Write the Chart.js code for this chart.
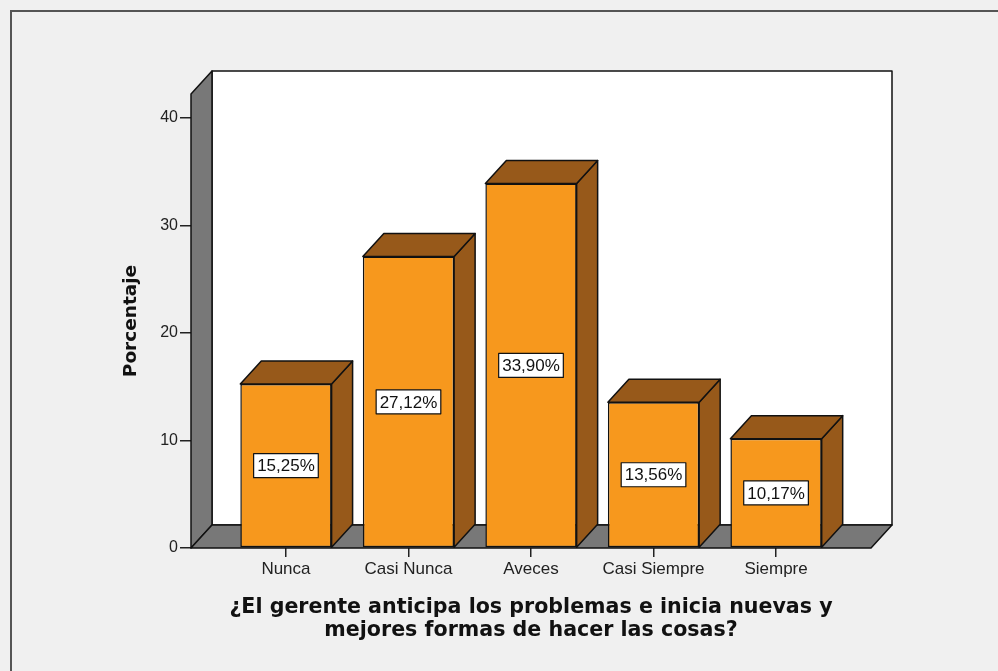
<!DOCTYPE html>
<html>
<head>
<meta charset="utf-8">
<title>Porcentaje</title>
<script src="https://cdn.jsdelivr.net/npm/chart.js@4.4.1/dist/chart.umd.min.js"></script>
<style>
    html, body { margin: 0; padding: 0; background: #f0f0f0; }
    canvas { display: block; }
</style>
</head>
<body>
<canvas id="myChart" width="998" height="671"></canvas>
<script>
var categorias = ['Nunca', 'Casi Nunca', 'Aveces', 'Casi Siempre', 'Siempre'];
var porcentajes = [15.25, 27.12, 33.90, 13.56, 10.17];
var ticksY = [0, 10, 20, 30, 40];
var tituloX = ['¿El gerente anticipa los problemas e inicia nuevas y', 'mejores formas de hacer las cosas?'];
var tituloY = 'Porcentaje';

// profundidad del efecto 3D
var PROF_X = 21;
var PROF_Y = 23;

function etiqueta(v) {
    return v.toFixed(2).replace('.', ',') + '%';
}

function poligono(ctx, puntos, color) {
    ctx.beginPath();
    ctx.moveTo(puntos[0][0], puntos[0][1]);
    for (var i = 1; i < puntos.length; i++) {
        ctx.lineTo(puntos[i][0], puntos[i][1]);
    }
    ctx.closePath();
    ctx.fillStyle = color;
    ctx.fill();
    ctx.stroke();
}

var fondo3D = {
    id: 'fondo3D',
    beforeDraw: function (chart) {
        var ctx = chart.ctx;
        ctx.save();
        ctx.fillStyle = '#f0f0f0';
        ctx.fillRect(0, 0, chart.width, chart.height);
        ctx.strokeStyle = '#555';
        ctx.lineWidth = 2;
        ctx.strokeRect(11, 11, chart.width + 20, chart.height + 20);
        ctx.restore();
    },
    beforeDatasetsDraw: function (chart) {
        var a = chart.chartArea;
        var ctx = chart.ctx;
        ctx.save();
        ctx.lineWidth = 1.5;
        ctx.strokeStyle = '#111';
        ctx.lineJoin = 'round';
        // pared del fondo
        poligono(ctx, [[a.left + PROF_X, a.top - PROF_Y], [a.right + PROF_X, a.top - PROF_Y],
            [a.right + PROF_X, a.bottom - PROF_Y], [a.left + PROF_X, a.bottom - PROF_Y]], '#ffffff');
        // pared izquierda
        poligono(ctx, [[a.left, a.top], [a.left + PROF_X, a.top - PROF_Y],
            [a.left + PROF_X, a.bottom - PROF_Y], [a.left, a.bottom]], '#787878');
        // piso
        poligono(ctx, [[a.left, a.bottom], [a.left + PROF_X, a.bottom - PROF_Y],
            [a.right + PROF_X, a.bottom - PROF_Y], [a.right, a.bottom]], '#787878');
        ctx.restore();
    },
    afterDatasetsDraw: function (chart) {
        var ctx = chart.ctx;
        var meta = chart.getDatasetMeta(0);
        ctx.save();
        ctx.lineWidth = 1.5;
        ctx.strokeStyle = '#111';
        ctx.lineJoin = 'round';
        meta.data.forEach(function (bar, i) {
            var p = bar.getProps(['x', 'y', 'base', 'width'], true);
            var x1 = p.x - p.width / 2;
            var x2 = p.x + p.width / 2;
            // cara lateral
            poligono(ctx, [[x2, p.y], [x2 + PROF_X, p.y - PROF_Y], [x2 + PROF_X, p.base - PROF_Y], [x2, p.base]], '#97591a');
            // cara superior
            poligono(ctx, [[x1, p.y], [x1 + PROF_X, p.y - PROF_Y], [x2 + PROF_X, p.y - PROF_Y], [x2, p.y]], '#97591a');

            // etiqueta del valor
            var txt = etiqueta(porcentajes[i]);
            ctx.font = '17px "Liberation Sans", Arial, sans-serif';
            var w = ctx.measureText(txt).width + 7;
            var h = 24;
            var cy = (p.y + p.base) / 2;
            ctx.fillStyle = '#ffffff';
            ctx.lineWidth = 1.2;
            ctx.fillRect(p.x - w / 2, cy - h / 2, w, h);
            ctx.strokeRect(p.x - w / 2, cy - h / 2, w, h);
            ctx.lineWidth = 1.5;
            ctx.fillStyle = '#111';
            ctx.textAlign = 'center';
            ctx.textBaseline = 'middle';
            ctx.fillText(txt, p.x, cy + 1);
        });
        ctx.restore();
    }
};

var datos = porcentajes.map(function (v, i) {
    return { x: i, y: v };
});

var ctx = document.getElementById('myChart').getContext('2d');
var myChart = new Chart(ctx, {
    type: 'bar',
    data: {
        datasets: [{
            label: tituloY,
            data: datos,
            backgroundColor: '#f7981d',
            borderColor: '#111',
            borderWidth: 1.5,
            borderSkipped: false,
            categoryPercentage: 1,
            barPercentage: 0.745
        }]
    },
    options: {
        responsive: false,
        animation: false,
        devicePixelRatio: 1,
        layout: {
            padding: { left: 118, top: 94, right: 127, bottom: 29 }
        },
        plugins: {
            legend: { display: false },
            tooltip: { enabled: false }
        },
        scales: {
            x: {
                type: 'linear',
                min: -0.775,
                max: 4.775,
                offset: false,
                afterBuildTicks: function (scale) {
                    scale.ticks = categorias.map(function (c, i) { return { value: i }; });
                },
                afterFit: function (scale) {
                    scale.height = 94;
                },
                ticks: {
                    autoSkip: false,
                    maxRotation: 0,
                    padding: 2,
                    color: '#222',
                    font: { family: '"Liberation Sans", Arial, sans-serif', size: 17 },
                    callback: function (v) { return categorias[v]; }
                },
                grid: { offset: false, drawOnChartArea: false, tickLength: 9, color: '#222', lineWidth: 1.5 },
                border: { display: false },
                title: {
                    display: true,
                    text: tituloX,
                    color: '#111',
                    padding: 0,
                    font: { family: '"DejaVu Sans", sans-serif', size: 20.6, weight: 'bold', lineHeight: 1.12 }
                }
            },
            y: {
                min: 0,
                max: 42.23,
                afterBuildTicks: function (scale) {
                    scale.ticks = ticksY.map(function (v) { return { value: v }; });
                },
                afterFit: function (scale) {
                    scale.width = 73;
                },
                ticks: {
                    padding: 2,
                    color: '#222',
                    font: { family: '"Liberation Sans", Arial, sans-serif', size: 16 }
                },
                grid: { drawOnChartArea: false, tickLength: 11, color: '#222', lineWidth: 1.5 },
                border: { display: false },
                title: {
                    display: true,
                    text: tituloY,
                    color: '#111',
                    padding: { top: 2, bottom: 0 },
                    font: { family: '"DejaVu Sans", sans-serif', size: 18.5, weight: 'bold' }
                }
            }
        }
    },
    plugins: [fondo3D]
});
</script>
</body>
</html>
